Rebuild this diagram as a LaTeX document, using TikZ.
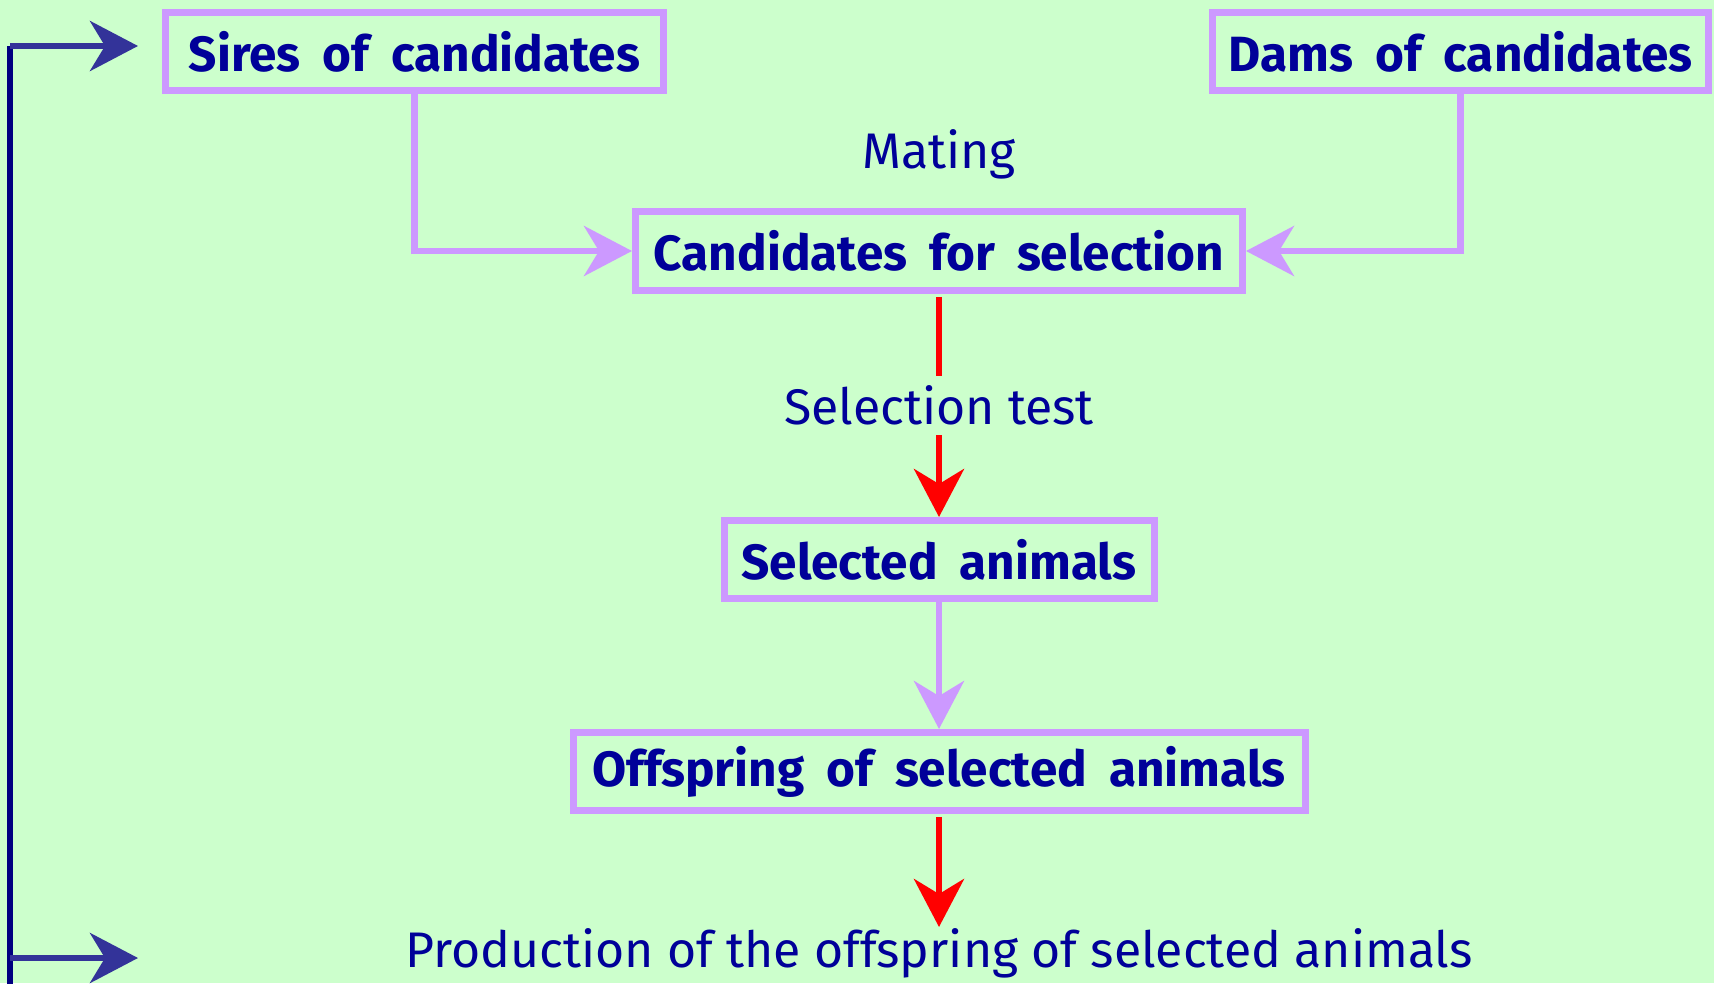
\documentclass[tikz,border=0pt]{standalone}
\usepackage{fontspec}
\setmainfont{Fira Sans}
\usetikzlibrary{arrows.meta}

\definecolor{pagebg}{HTML}{CCFFCC}
\definecolor{lilac}{HTML}{CC99FF}
\definecolor{inkblue}{HTML}{000099}
\definecolor{loopblue}{HTML}{333399}
\definecolor{loopnavy}{HTML}{000080}

% bold stage font with wide word gaps
\newcommand{\stagefont}{\fontsize{49.5}{58}\selectfont\bfseries\spaceskip 22pt plus 0pt minus 0pt\relax}

\tikzset{
  every node/.style={text=inkblue},
  stagebox/.style={draw=lilac, line width=7pt, inner sep=0pt, font=\stagefont},
  plainlabel/.style={inner sep=0pt, font=\fontsize{50}{60}\selectfont},
  tipshape/.style={-{Stealth[length=48pt, width=50pt, inset=15pt]}},
  lilacflow/.style={tipshape, draw=lilac, line width=6.5pt},
  redflow/.style={tipshape, draw=red, line width=6.5pt},
  loopline/.style={draw=loopnavy, line width=6pt},
  looparrow/.style={tipshape, draw=loopblue, line width=6.5pt},
}

\begin{document}
\begin{tikzpicture}[x=1pt, y=-1pt]
  % page
  \fill[pagebg] (0,0) rectangle (1714,983);
  \useasboundingbox (0,0) rectangle (1714,983);

  % stages
  \node[stagebox, minimum width=498pt, minimum height=78pt] (sires) at (414.5,51.5) {Sires of candidates};
  \node[stagebox, minimum width=496pt, minimum height=78pt] (dams) at (1460.5,51.5) {Dams of candidates};
  \node[plainlabel] (mating) at (939,154) {Mating};
  \node[stagebox, minimum width=607pt, minimum height=79pt] (cand) at (939,251) {Candidates for selection};
  \node[stagebox, minimum width=430pt, minimum height=78pt] (sel) at (939,559.5) {Selected animals};
  \node[stagebox, minimum width=732pt, minimum height=78pt] (off) at (939,771.5) {Offspring of selected animals};
  \node[plainlabel, anchor=north, inner sep=1pt] (prod) at (939,927) {Production of the offspring of selected animals};

  % mating
  \draw[lilacflow] (sires.south) |- (cand.west);
  \draw[lilacflow] (dams.south) |- (cand.east);

  % selection and reproduction
  \draw[redflow, shorten <=3pt] (cand.south) -- node[plainlabel, fill=pagebg, inner xsep=6pt, inner ysep=10pt] (test) {Selection test} (sel.north);
  \draw[lilacflow] (sel.south) -- (off.north);
  \draw[redflow, shorten <=3pt] (off.south) -- (prod.north);

  % next generation loop
  \coordinate (loopA) at (10,46);
  \coordinate (loopB) at (10,985);
  \coordinate (loopC) at (10,958);
  \coordinate (loopTop) at (138,46);
  \coordinate (loopBot) at (138,958);
  \draw[loopline] (loopA) -- (loopB);
  \draw[looparrow] (loopA) -- (loopTop);
  \draw[looparrow] (loopC) -- (loopBot);
\end{tikzpicture}
\end{document}
